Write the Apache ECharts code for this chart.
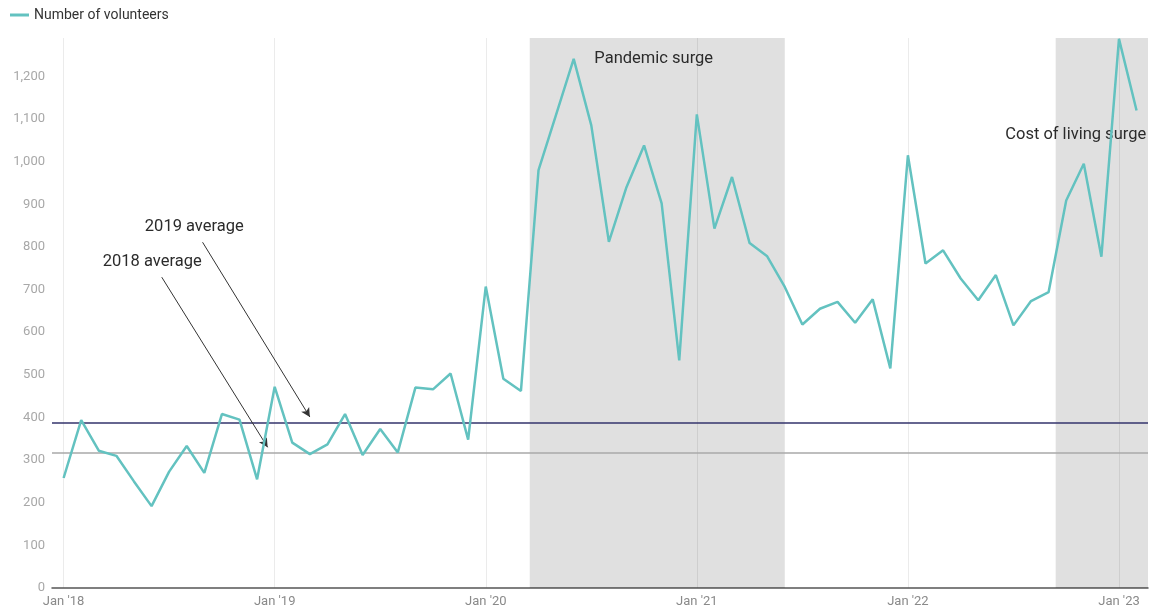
<!DOCTYPE html>
<html>
<head>
<meta charset="utf-8">
<script src="https://cdn.jsdelivr.net/npm/echarts@6/dist/echarts.min.js"></script>
<style>
  html, body { margin: 0; padding: 0; background: #fff; }
  #chart { width: 1152px; height: 613px; }
</style>
</head>
<body>
<div id="chart"></div>
<script>
// monthly volunteers, Jan 2018 .. Feb 2023 (x = month index from Jan 2018)
const months = [
  '2018-01','2018-02','2018-03','2018-04','2018-05','2018-06','2018-07','2018-08','2018-09','2018-10','2018-11','2018-12',
  '2019-01','2019-02','2019-03','2019-04','2019-05','2019-06','2019-07','2019-08','2019-09','2019-10','2019-11','2019-12',
  '2020-01','2020-02','2020-03','2020-04','2020-05','2020-06','2020-07','2020-08','2020-09','2020-10','2020-11','2020-12',
  '2021-01','2021-02','2021-03','2021-04','2021-05','2021-06','2021-07','2021-08','2021-09','2021-10','2021-11','2021-12',
  '2022-01','2022-02','2022-03','2022-04','2022-05','2022-06','2022-07','2022-08','2022-09','2022-10','2022-11','2022-12',
  '2023-01','2023-02'
]
const volunteers = [
  258, 394, 322, 310, 250, 192, 273, 333, 270, 408, 395, 255,
  472, 341, 314, 337, 408, 312, 373, 318, 470, 466, 503, 348,
  707, 491, 462, 980, 1110, 1241, 1085, 812, 940, 1038, 902, 534,
  1111, 843, 964, 809, 778, 706, 618, 655, 671, 622, 677, 515,
  1015, 761, 792, 726, 675, 734, 616, 673, 694, 909, 995, 777,
  1288, 1120
]
const xTickValues = [0, 12, 24, 36, 48, 60]
const xTickLabels = ["Jan '18", "Jan '19", "Jan '20", "Jan '21", "Jan '22", "Jan '23"]

const avg2018 = 317
const avg2019 = 387

// shaded periods, in month index
const pandemicSurge = [26.5, 41]
const costOfLivingSurge = [56.4, 61.65]

// annotation anchors [monthIndex, value]
const note2019 = { text: '2019 average', at: [7.43, 846], from: [7.9, 811], to: [14.0, 401] }
const note2018 = { text: '2018 average', at: [5.04, 764], from: [5.58, 729], to: [11.6, 330] }
const notePandemic = { text: 'Pandemic surge', at: [33.55, 1242] }
const noteCost = { text: 'Cost of living surge', at: [57.54, 1062] }

const chart = echarts.init(document.getElementById('chart'))
const font = 'Roboto, "Noto Sans", sans-serif'

const textPoint = (n) => ({
  coord: n.at,
  symbol: 'circle',
  symbolSize: 0,
  label: { show: true, position: 'inside', formatter: n.text, color: '#2b2b2b', fontSize: 16.5, fontFamily: font },
})

chart.setOption({
  animation: false,
  textStyle: { fontFamily: font },
  legend: {
    left: 5,
    top: 3,
    itemWidth: 19,
    itemHeight: 3,
    itemGap: 6,
    icon: 'rect',
    textStyle: { color: '#333', fontSize: 14, fontFamily: font },
    data: ['Number of volunteers'],
  },
  grid: { left: 52, right: 4, top: 38, bottom: 25 },
  xAxis: {
    type: 'value',
    min: -0.66,
    max: 61.65,
    axisLine: { show: true, lineStyle: { color: '#555', width: 1.5 } },
    axisTick: { show: false, customValues: xTickValues },
    axisLabel: {
      customValues: xTickValues,
      color: '#8a8a8a',
      fontSize: 13,
      margin: 7,
      formatter: (v) => xTickLabels[xTickValues.indexOf(Math.round(v))] || '',
    },
    splitLine: { show: true, lineStyle: { color: '#ebebeb', width: 1 } },
  },
  yAxis: {
    type: 'value',
    min: 0,
    max: 1290,
    interval: 100,
    axisLine: { show: false },
    axisTick: { show: false },
    splitLine: { show: false },
    axisLabel: {
      color: '#a8a8a8',
      fontSize: 13,
      margin: 7,
      showMaxLabel: false,
      formatter: (v) => v.toLocaleString('en-US'),
    },
  },
  series: [{
    name: 'Number of volunteers',
    type: 'line',
    data: volunteers.map((v, i) => [i, v]),
    symbol: 'none',
    color: '#63c2c0',
    lineStyle: { color: '#63c2c0', width: 2.5 },
    z: 5,
    markArea: {
      silent: true,
      itemStyle: { color: 'rgba(0,0,0,0.12)' },
      data: [
        [{ xAxis: pandemicSurge[0] }, { xAxis: pandemicSurge[1] }],
        [{ xAxis: costOfLivingSurge[0] }, { xAxis: costOfLivingSurge[1] }],
      ],
    },
    markLine: {
      silent: true,
      symbol: ['none', 'none'],
      label: { show: false },
      data: [
        { yAxis: avg2018, lineStyle: { color: '#a9a9a9', width: 1.5, type: 'solid' } },
        { yAxis: avg2019, lineStyle: { color: '#33336b', width: 1.5, type: 'solid' } },
        [
          { coord: note2019.from, symbol: 'none', lineStyle: { color: '#333', width: 1, type: 'solid' } },
          { coord: note2019.to, symbol: 'arrow', symbolSize: [7, 9] },
        ],
        [
          { coord: note2018.from, symbol: 'none', lineStyle: { color: '#333', width: 1, type: 'solid' } },
          { coord: note2018.to, symbol: 'arrow', symbolSize: [7, 9] },
        ],
      ],
    },
    markPoint: {
      silent: true,
      data: [textPoint(note2019), textPoint(note2018), textPoint(notePandemic), textPoint(noteCost)],
    },
  }],
})
</script>
</body>
</html>
